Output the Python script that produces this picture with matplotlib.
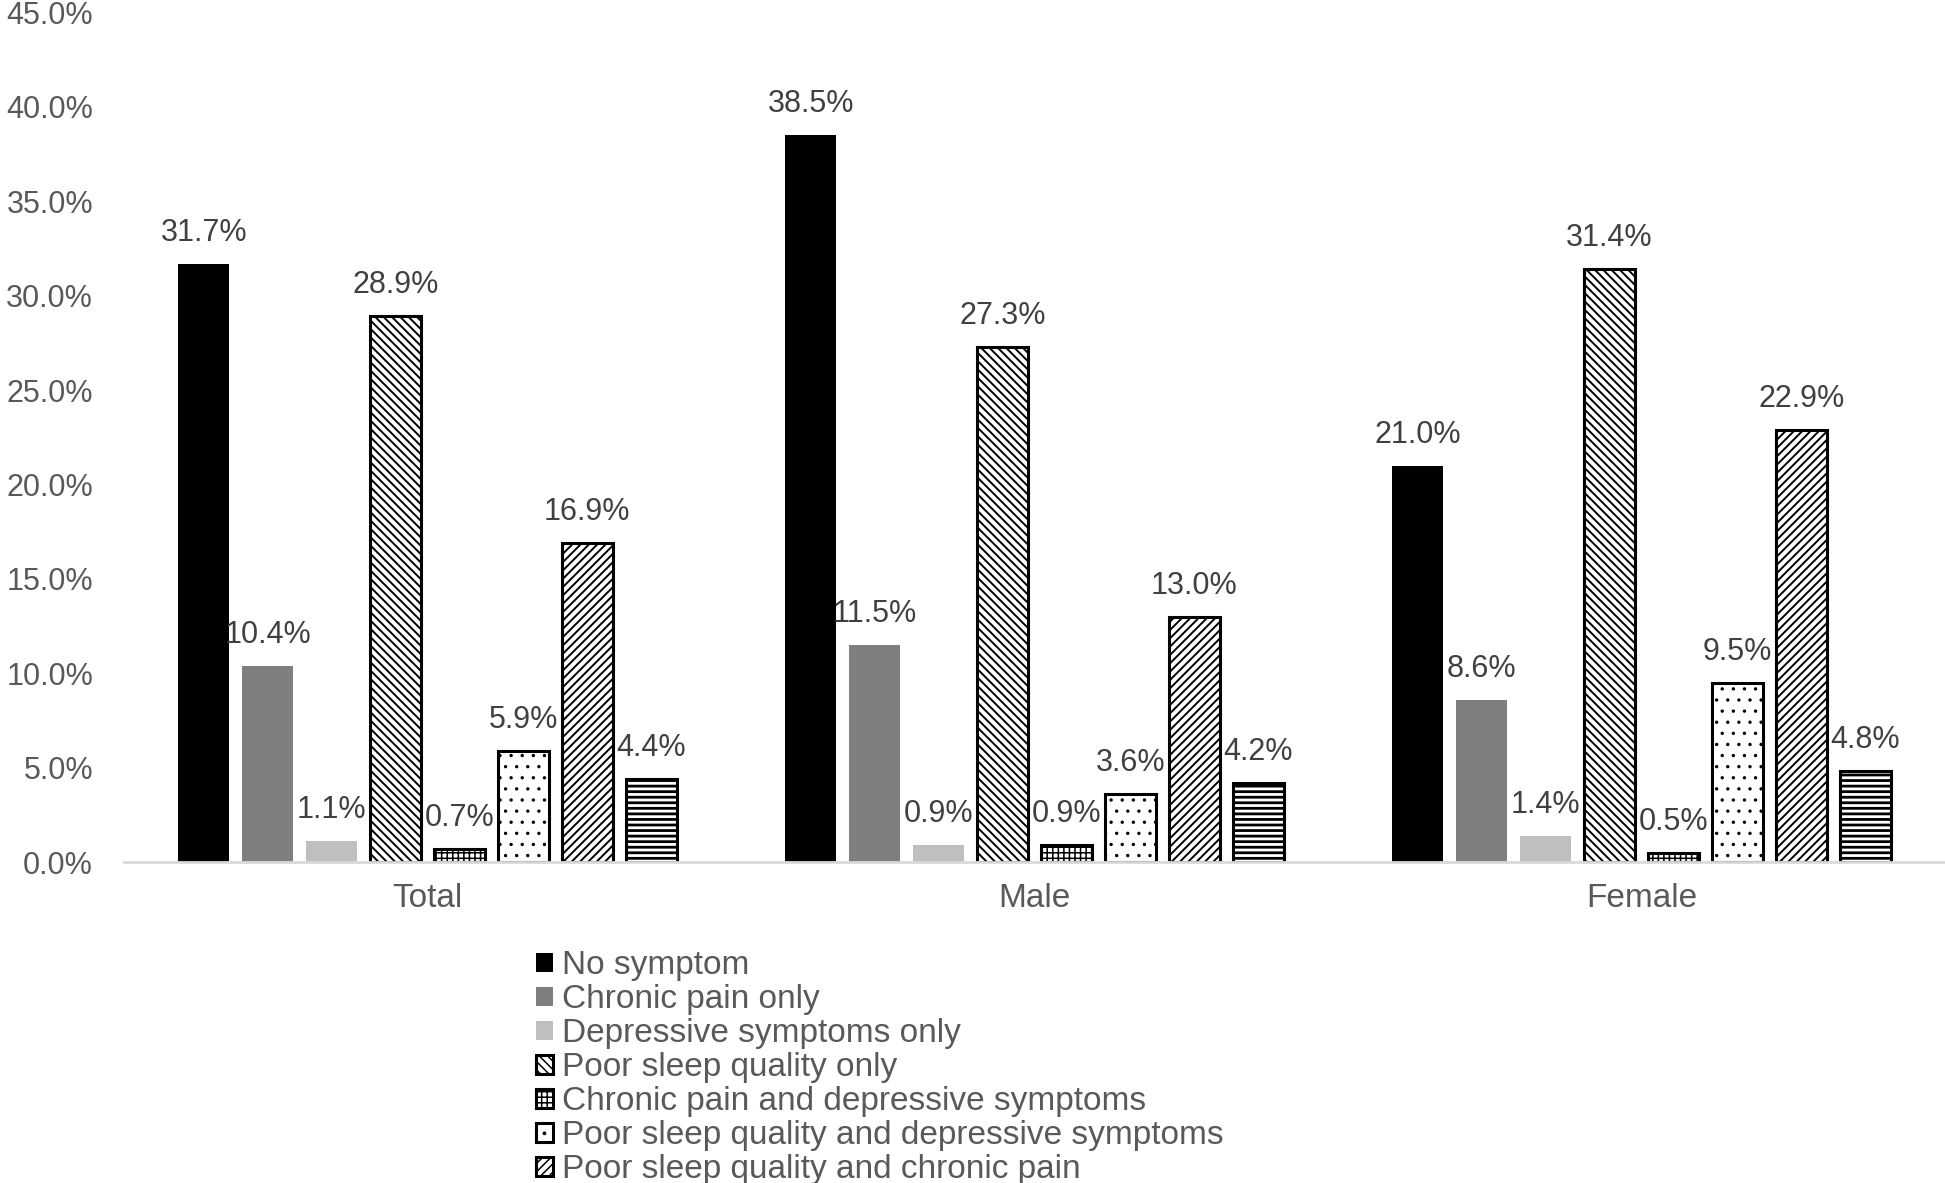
import matplotlib
matplotlib.use("Agg")
import matplotlib.pyplot as plt
import numpy as np

DPI = 200
K = 100 / DPI  # point scaling so sizes match a 100-dpi layout

plt.rcParams['font.family'] = ['Liberation Sans', 'DejaVu Sans']
plt.rcParams['hatch.linewidth'] = 1.1 * K

groups = ["Total", "Male", "Female"]
series = [
    "No symptom",
    "Chronic pain only",
    "Depressive symptoms only",
    "Poor sleep quality only",
    "Chronic pain and depressive symptoms",
    "Poor sleep quality and depressive symptoms",
    "Poor sleep quality and chronic pain",
    "All three symptoms",
]
values = {
    "No symptom": [31.7, 38.5, 21.0],
    "Chronic pain only": [10.4, 11.5, 8.6],
    "Depressive symptoms only": [1.1, 0.9, 1.4],
    "Poor sleep quality only": [28.9, 27.3, 31.4],
    "Chronic pain and depressive symptoms": [0.7, 0.9, 0.5],
    "Poor sleep quality and depressive symptoms": [5.9, 3.6, 9.5],
    "Poor sleep quality and chronic pain": [16.9, 13.0, 22.9],
    "All three symptoms": [4.4, 4.2, 4.8],
}
yticks = [0, 5, 10, 15, 20, 25, 30, 35, 40, 45]

styles = [
    dict(color="#000000", hatch=None, hlw=None),
    dict(color="#7f7f7f", hatch=None, hlw=None),
    dict(color="#bfbfbf", hatch=None, hlw=None),
    dict(color="white", hatch="\\" * 8, hlw=1.4),
    dict(color="white", hatch="+" * 6, hlw=1.1),
    dict(color="white", hatch="...", hlw=0.8),
    dict(color="white", hatch="/" * 8, hlw=1.4),
    dict(color="white", hatch="-" * 6, hlw=2.0),
]

fig = plt.figure(figsize=(1945 / DPI, 1183 / DPI), dpi=DPI)
ax = fig.add_axes([124/1945, 1-862/1183, 1-124/1945, (862-12.4)/1183])

x = np.arange(len(groups))
step = 0.1053
width = 0.084
n = len(series)
for i, name in enumerate(series):
    st = styles[i]
    pos = x + (i - (n-1)/2) * step
    lab = name if i < 7 else "_nolegend_"
    if st["hatch"] is None:
        bars = ax.bar(pos, values[name], width, color=st["color"], linewidth=0, label=lab)
    else:
        with plt.rc_context({'hatch.linewidth': st["hlw"] * K}):
            bars = ax.bar(pos, values[name], width, facecolor="white", edgecolor="black",
                          hatch=st["hatch"], linewidth=2.2 * K, label=lab)
        for b in bars:
            if hasattr(b, "set_hatch_linewidth"):
                b.set_hatch_linewidth(st["hlw"] * K)
    for p, v in zip(pos, values[name]):
        ax.annotate(f"{v:.1f}%", (p, v), xytext=(0, 16.5 * K), textcoords="offset points",
                    ha="center", va="baseline", fontsize=22 * K, color="#404040")

ax.set_xlim(-0.5, 2.5)
ax.set_ylim(0, 45)
ax.set_yticks(yticks)
ax.set_yticklabels([f"{t:.1f}%" for t in yticks])
ax.set_xticks(x)
ax.set_xticklabels(groups)
ax.tick_params(axis="y", length=0, pad=22.3 * K, labelsize=22 * K, labelcolor="#595959")
ax.tick_params(axis="x", length=0, pad=15 * K, labelsize=24 * K, labelcolor="#595959")
for s in ["top", "right", "left"]:
    ax.spines[s].set_visible(False)
ax.spines["bottom"].set_color("#d9d9d9")
ax.spines["bottom"].set_linewidth(2 * K)

h, l = ax.get_legend_handles_labels()
leg = fig.legend(h, l, loc="upper left", bbox_to_anchor=(536/1945, 1-950/1183),
                 frameon=False, fontsize=24 * K, handlelength=0.5, handleheight=0.5,
                 handletextpad=0.27, labelspacing=0.09, borderpad=0, borderaxespad=0)
for t in leg.get_texts():
    t.set_color("#595959")

fig.savefig("out.png", dpi=DPI)
